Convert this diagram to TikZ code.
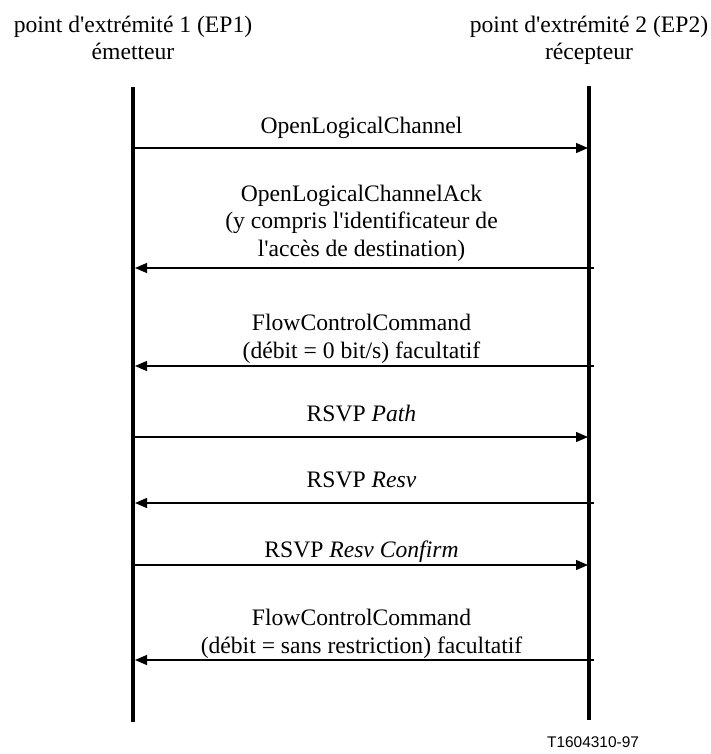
\documentclass[tikz,border=0pt]{standalone}
\usepackage{fontspec}
\setmainfont{Liberation Serif}
\setsansfont{Liberation Sans}
\usetikzlibrary{arrows.meta}
\newcommand{\ap}{\textquotesingle}
\begin{document}
\begin{tikzpicture}[x=1bp,y=-1bp,
  lifeline/.style={line width=3.6bp},
  msg/.style={line width=1.3bp,-{Triangle[length=12bp,width=10bp]}},
  lbl/.style={align=center,inner sep=0pt,anchor=base,font=\fontsize{23.7}{27.3}\selectfont},
  hdr/.style={align=center,inner sep=0pt,anchor=base,font=\fontsize{23.7}{27.5}\selectfont}]
\useasboundingbox (0,0) rectangle (711,754);
% lifelines
\coordinate (at) at (133,87);
\coordinate (ab) at (133,722);
\coordinate (bt) at (589,86);
\coordinate (bb) at (589,720);
\draw[lifeline] (at) -- (ab);
\draw[lifeline] (bt) -- (bb);
% headers (anchor = baseline of last line)
\node[hdr] (h1) at (133,60) {point d\ap extrémité 1 (EP1)\\émetteur};
\node[hdr] (h2) at (589,60) {point d\ap extrémité 2 (EP2)\\récepteur};
% message endpoints
\foreach \n/\y in {1/148,2/268,3/366,4/437,5/503,6/565,7/660}{
  \coordinate (l\n) at (135,\y);
  \coordinate (r\n) at (588,\y);
  \coordinate (rs\n) at (594,\y);
}
\draw[msg] (l1) -- (r1);
\draw[msg] (rs2) -- (l2);
\draw[msg] (rs3) -- (l3);
\draw[msg] (l4) -- (r4);
\draw[msg] (rs5) -- (l5);
\draw[msg] (l6) -- (r6);
\draw[msg] (rs7) -- (l7);
% labels (anchor = baseline of last line)
\node[lbl] (m1) at (361.5,133) {OpenLogicalChannel};
\node[lbl] (m2) at (361.5,256) {OpenLogicalChannelAck\\(y compris l\ap identificateur de\\l\ap accès de destination)};
\node[lbl] (m3) at (361.5,358) {FlowControlCommand\\(débit = 0 bit/s) facultatif};
\node[lbl] (m4) at (361.5,421) {RSVP \textit{Path}};
\node[lbl] (m5) at (361.5,487) {RSVP \textit{Resv}};
\node[lbl] (m6) at (361.5,557) {RSVP \textit{Resv Confirm}};
\node[lbl] (m7) at (361.5,653) {FlowControlCommand\\(débit = sans restriction) facultatif};
\node[inner sep=0pt,anchor=base,font=\sffamily\fontsize{15.5}{18}\selectfont] (ref) at (593,747) {T1604310-97};
\end{tikzpicture}
\end{document}
